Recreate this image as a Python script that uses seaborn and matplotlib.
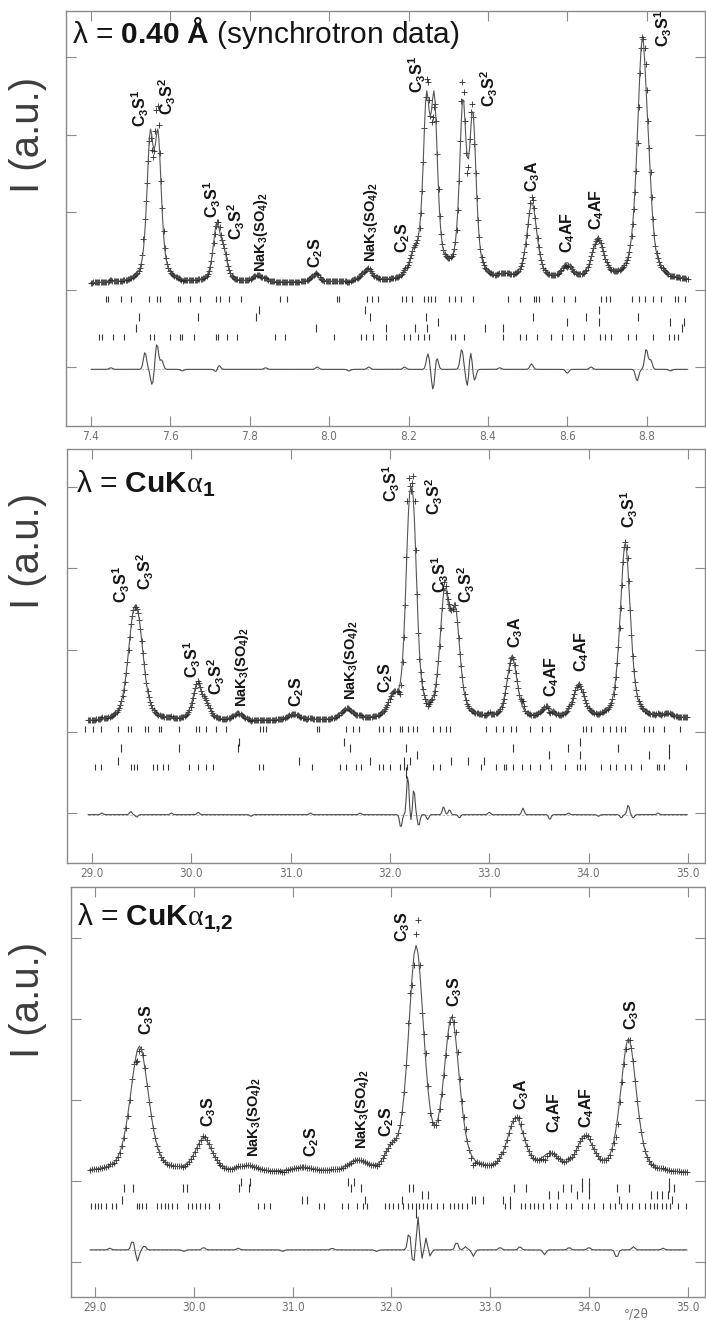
import numpy as np
import pandas as pd
import matplotlib
matplotlib.use("Agg")
import matplotlib.pyplot as plt
from matplotlib.ticker import FormatStrFormatter
import seaborn as sns

# ---------------------------------------------------------------- data
# Panel 1 : synchrotron, lambda = 0.40 A   (x in deg 2theta, y in tick units)
p1_range = [7.40, 8.905]
p1_bg = [1.08, 1.10]
p1_pos = [7.549, 7.569, 7.717, 7.735, 7.820, 7.964, 8.095, 8.215, 8.245, 8.265, 8.300,
          8.337, 8.362, 8.445, 8.511, 8.599, 8.677, 8.789, 8.806]
p1_hgt = [1.72, 1.72, 0.72, 0.30, 0.09, 0.09, 0.14, 0.28, 2.08, 2.08, 0.05,
          2.15, 2.00, 0.05, 1.00, 0.20, 0.52, 3.05, 0.40]
p1_fwhm = [0.020, 0.020, 0.022, 0.020, 0.030, 0.025, 0.035, 0.030, 0.020, 0.020, 0.050,
           0.020, 0.020, 0.030, 0.030, 0.030, 0.035, 0.030, 0.020]
p1_dpos = [7.45, 7.536, 7.554, 7.566, 7.578, 7.63, 7.716, 7.722, 7.84, 7.97, 8.05, 8.10,
           8.19, 8.249, 8.262, 8.271, 8.334, 8.349, 8.356, 8.366, 8.43, 8.51, 8.60, 8.66,
           8.776, 8.799, 8.81, 8.86]
p1_damp = [0.02, 0.22, -0.20, 0.33, 0.12, -0.02, -0.04, 0.06, 0.02, 0.03, -0.02, 0.03,
           0.03, 0.20, -0.27, 0.16, 0.26, -0.25, 0.26, -0.15, 0.02, 0.07, -0.05, 0.03,
           -0.15, 0.26, 0.12, -0.02]
p1_ticks = [
    [7.438, 7.442, 7.476, 7.500, 7.545, 7.566, 7.573, 7.618, 7.625, 7.649, 7.675, 7.716,
     7.724, 7.747, 7.779, 7.877, 7.895, 8.019, 8.026, 8.095, 8.109, 8.123, 8.183, 8.194,
     8.209, 8.240, 8.248, 8.256, 8.266, 8.303, 8.316, 8.331, 8.362, 8.451, 8.482, 8.515,
     8.521, 8.528, 8.562, 8.593, 8.619, 8.684, 8.697, 8.708, 8.764, 8.780, 8.796, 8.816,
     8.837, 8.871, 8.879, 8.897],
    [7.823, 8.090, 8.679],
    [7.521, 7.670, 7.815, 8.102, 8.244, 8.513, 8.648, 8.778],
    [8.275, 8.600, 8.679, 8.858, 8.894],
    [7.514, 7.968, 8.144, 8.217, 8.246, 8.393, 8.438, 8.889],
    [7.420, 7.428, 7.455, 7.483, 7.548, 7.558, 7.600, 7.623, 7.630, 7.659, 7.714, 7.721,
     7.742, 7.768, 7.864, 7.888, 8.012, 8.080, 8.092, 8.111, 8.142, 8.189, 8.204, 8.225,
     8.240, 8.251, 8.306, 8.316, 8.339, 8.438, 8.482, 8.495, 8.524, 8.559, 8.586, 8.614,
     8.642, 8.682, 8.694, 8.711, 8.752, 8.773, 8.816, 8.856, 8.870, 8.879],
]
p1_lab_txt = ["C_3S^1", "C_3S^2", "C_3S^1", "C_3S^2", "NaK_3(SO_4)_2", "C_2S",
              "NaK_3(SO_4)_2", "C_2S", "C_3S^1", "C_3S^2", "C_3A", "C_4AF", "C_4AF", "C_3S^1"]
p1_lab_x = [7.523, 7.591, 7.706, 7.765, 7.828, 7.967, 8.105, 8.185, 8.222, 8.403, 8.513,
            8.600, 8.675, 8.843]
p1_lab_y = [3.10, 3.25, 1.92, 1.64, 1.23, 1.28, 1.36, 1.47, 3.53, 3.35, 2.26, 1.47, 1.77, 4.13]

# Panel 2 : CuKa1
p2_range = [28.96, 35.0]
p2_bg = [1.12, 1.16]
p2_pos = [29.41, 29.47, 30.06, 30.15, 30.47, 31.03, 31.57, 32.03, 32.19, 32.24, 32.55,
          32.66, 33.23, 33.58, 33.90, 34.37, 34.80]
p2_hgt = [0.85, 0.80, 0.42, 0.15, 0.08, 0.07, 0.13, 0.22, 1.80, 1.80, 1.42,
          1.18, 0.75, 0.13, 0.40, 2.15, 0.05]
p2_fwhm = [0.14, 0.14, 0.11, 0.10, 0.12, 0.15, 0.14, 0.12, 0.09, 0.09, 0.11,
           0.11, 0.12, 0.12, 0.13, 0.12, 0.10]
p2_dpos = [29.10, 29.39, 29.45, 29.80, 30.07, 30.60, 31.20, 31.70, 32.11, 32.18, 32.215,
           32.24, 32.29, 32.38, 32.54, 32.60, 32.70, 33.00, 33.34, 33.61, 33.80, 34.10,
           34.33, 34.40, 34.45, 34.70]
p2_damp = [0.02, 0.04, -0.03, 0.02, 0.03, -0.02, 0.02, 0.02, -0.16, 0.49, -0.10,
           0.33, -0.14, -0.06, 0.10, 0.06, -0.04, 0.03, 0.08, -0.06, 0.02, -0.02,
           -0.04, 0.12, -0.04, 0.02]
p2_ticks = [
    [28.93, 29.01, 29.09, 29.26, 29.36, 29.39, 29.53, 29.56, 29.67, 29.69, 29.88, 30.05,
     30.08, 30.15, 30.25, 30.35, 30.69, 30.72, 30.75, 31.27, 31.29, 31.56, 31.63, 31.69,
     31.89, 31.93, 32.00, 32.10, 32.12, 32.18, 32.23, 32.27, 32.43, 32.50, 32.56, 32.61,
     32.97, 33.07, 33.14, 33.22, 33.27, 33.41, 33.53, 33.61, 33.94, 33.97, 34.02, 34.15,
     34.22, 34.28, 34.33, 34.37, 34.56, 34.61, 34.65, 34.76, 34.92],
    [30.48, 31.54, 33.91],
    [29.29, 29.88, 30.47, 31.60, 32.16, 33.24, 33.79, 34.30, 34.81],
    [32.27, 33.60, 33.91, 34.61, 34.81],
    [29.26, 31.08, 31.80, 32.14, 32.20, 32.62, 32.79, 32.95],
    [29.03, 29.09, 29.39, 29.42, 29.45, 29.61, 29.65, 29.71, 29.77, 29.98, 30.07, 30.15,
     30.22, 30.68, 30.72, 31.22, 31.50, 31.56, 31.66, 31.71, 31.89, 31.93, 32.00, 32.10,
     32.14, 32.17, 32.43, 32.50, 32.92, 33.07, 33.15, 33.17, 33.24, 33.33, 33.41, 33.51,
     33.62, 33.76, 33.88, 33.91, 33.96, 34.13, 34.22, 34.28, 34.37, 34.43, 34.53, 34.69,
     34.71, 34.76, 34.98],
]
p2_long_tick = 32.16
p2_lab_txt = ["C_3S^1", "C_3S^2", "C_3S^1", "C_3S^2", "NaK_3(SO_4)_2", "C_2S",
              "NaK_3(SO_4)_2", "C_2S", "C_3S^1", "C_3S^2", "C_3S^1", "C_3S^2", "C_3A",
              "C_4AF", "C_4AF", "C_3S^1"]
p2_lab_x = [29.29, 29.54, 30.01, 30.25, 30.51, 31.06, 31.61, 31.96, 32.01, 32.45, 32.51,
            32.77, 33.27, 33.63, 33.93, 34.41]
p2_lab_y = [2.58, 2.74, 1.66, 1.45, 1.30, 1.30, 1.39, 1.47, 3.82, 3.66, 2.70, 2.58, 2.02,
            1.42, 1.73, 3.50]

# Panel 3 : CuKa1,2
p3_range = [28.95, 35.0]
p3_bg = [1.11, 1.09]
p3_pos = [29.45, 30.10, 30.55, 31.10, 31.65, 32.00, 32.25, 32.61, 33.26, 33.61, 33.96, 34.40]
p3_hgt = [1.55, 0.40, 0.07, 0.05, 0.12, 0.20, 2.75, 1.85, 0.65, 0.20, 0.42, 1.65]
p3_fwhm = [0.22, 0.20, 0.20, 0.25, 0.20, 0.15, 0.185, 0.185, 0.20, 0.22, 0.20, 0.19]
p3_dpos = [29.15, 29.38, 29.43, 29.50, 29.90, 30.10, 30.45, 30.90, 31.40, 31.85, 32.18,
           32.22, 32.27, 32.31, 32.35, 32.39, 32.66, 32.75, 32.83, 33.10, 33.30, 33.55,
           33.80, 34.00, 34.28, 34.45, 34.75]
p3_damp = [0.02, 0.12, -0.14, 0.05, -0.02, 0.03, 0.02, -0.02, 0.02, -0.02, 0.23,
           -0.18, 0.41, -0.12, 0.15, -0.08, 0.10, 0.04, -0.08, 0.03, 0.04, -0.06,
           0.03, 0.03, -0.10, 0.04, 0.02]
p3_ticks = [
    [30.48, 30.57, 31.56, 31.62, 33.93, 34.00, 34.81],
    [29.29, 29.38, 29.89, 29.93, 30.46, 30.56, 31.59, 31.69, 32.18, 32.22, 33.24, 33.36,
     33.74, 33.82, 33.93, 34.00, 34.28, 34.40, 34.81, 34.86],
    [32.31, 32.37, 33.59, 33.69, 33.88, 34.00, 34.63, 34.69, 34.74, 34.80],
    [29.27, 31.10, 31.15, 31.73, 32.11, 32.82, 32.85, 32.93, 33.13, 33.20, 34.30, 34.84],
    [28.96, 29.00, 29.03, 29.06, 29.11, 29.17, 29.21, 29.42, 29.45, 29.48, 29.52, 29.63,
     29.67, 29.71, 29.74, 29.78, 29.83, 29.94, 29.98, 30.02, 30.06, 30.11, 30.15, 30.25,
     30.65, 30.71, 30.77, 31.27, 31.32, 31.50, 31.56, 31.65, 31.71, 31.75, 31.94, 31.98,
     32.02, 32.07, 32.12, 32.17, 32.21, 32.25, 32.28, 32.32, 32.36, 32.40, 32.46, 32.52,
     32.59, 32.63, 32.67, 32.71, 32.77, 33.15, 33.20, 33.31, 33.35, 33.40, 33.44, 33.48,
     33.53, 33.61, 33.68, 33.77, 33.82, 33.93, 33.99, 34.05, 34.14, 34.21, 34.26, 34.32,
     34.38, 34.44, 34.51, 34.57, 34.62, 34.66, 34.69, 34.74, 34.78, 34.82, 34.90, 34.98],
]
p3_long_tick = 32.25
p3_lab_txt = ["C_3S", "C_3S", "NaK_3(SO_4)_2", "C_2S", "NaK_3(SO_4)_2", "C_2S", "C_3S",
              "C_3S", "C_3A", "C_4AF", "C_4AF", "C_3S"]
p3_lab_x = [29.52, 30.15, 30.61, 31.19, 31.70, 31.95, 32.11, 32.64, 33.32, 33.65, 33.98, 34.43]
p3_lab_y = [2.80, 1.67, 1.30, 1.30, 1.40, 1.54, 3.95, 3.15, 1.88, 1.59, 1.65, 2.86]

titles = [r"λ = $\mathbf{0.40\ Å}$ (synchrotron data)",
          r"λ = $\mathbf{CuK}\mathit{α}_{\mathbf{1}}$",
          r"λ = $\mathbf{CuK}\mathit{α}_{\mathbf{1{,}2}}$"]
xticks1 = [7.4, 7.6, 7.8, 8.0, 8.2, 8.4, 8.6, 8.8]
xticks23 = [29.0, 30.0, 31.0, 32.0, 33.0, 34.0, 35.0]
ylabel = "I (a.u.)"
xunit = "°/2θ"

# ---------------------------------------------------------------- style
sns.set_theme(style="white")
plt.rcParams["font.family"] = ["Liberation Sans", "DejaVu Sans"]
plt.rcParams["mathtext.fontset"] = "custom"
plt.rcParams["mathtext.rm"] = "Liberation Sans"
plt.rcParams["mathtext.bf"] = "Liberation Sans:bold"
plt.rcParams["mathtext.it"] = "Liberation Serif"

GRAY = "#8a8a8a"
NARROW = ["Liberation Sans Narrow", "DejaVu Sans"]


def pvoigt(x, pos, hgt, fwhm, eta):
    y = np.zeros_like(x)
    for p, h, w in zip(pos, hgt, fwhm):
        d = (x - p) / w
        g = np.exp(-4 * np.log(2) * d ** 2)
        l = 1.0 / (1.0 + 4 * d ** 2)
        y += h * (eta * l + (1 - eta) * g)
    return y


def spikes(x, pos, amp, sig):
    y = np.zeros_like(x)
    for p, a in zip(pos, amp):
        y += a * np.exp(-0.5 * ((x - p) / sig) ** 2)
    return y


fig = plt.figure(figsize=(7.06, 13.21), dpi=100)
rects = [[66 / 706, 1 - 426 / 1321, 639 / 706, 415 / 1321],
         [67 / 706, 1 - 863 / 1321, 638 / 706, 414 / 1321],
         [71 / 706, 1 - 1297 / 1321, 634 / 706, 410 / 1321]]

panels = [
    dict(rng=p1_range, bg=p1_bg, pos=p1_pos, hgt=p1_hgt, fwhm=p1_fwhm, eta=0.6, step=0.003,
         dpos=p1_dpos, damp=p1_damp, dsig=0.004, doff=-0.03, ticks=p1_ticks,
         trow=[0.877, 0.735, 0.645, 0.58, 0.503, 0.387], long=None,
         ltxt=p1_lab_txt, lx=p1_lab_x, ly=p1_lab_y, xt=xticks1, xlim=(7.337, 8.947),
         ylim=(-0.761, 4.594), title_xy=(0.0094, 0.923)),
    dict(rng=p2_range, bg=p2_bg, pos=p2_pos, hgt=p2_hgt, fwhm=p2_fwhm, eta=0.5, step=0.012,
         dpos=p2_dpos, damp=p2_damp, dsig=0.012, doff=-0.02, ticks=p2_ticks,
         trow=[1.03, 0.87, 0.80, 0.71, 0.64, 0.56], long=(p2_long_tick, 0.56, 0.43),
         ltxt=p2_lab_txt, lx=p2_lab_x, ly=p2_lab_y, xt=xticks23, xlim=(28.748, 35.173),
         ylim=(-0.613, 4.466), title_xy=(0.014, 0.894)),
    dict(rng=p3_range, bg=p3_bg, pos=p3_pos, hgt=p3_hgt, fwhm=p3_fwhm, eta=0.4, step=0.02,
         dpos=p3_dpos, damp=p3_damp, dsig=0.015, doff=0.15, ticks=p3_ticks,
         trow=[0.99, 0.91, 0.83, 0.76, 0.69], long=(p3_long_tick, 0.67, 0.54),
         ltxt=p3_lab_txt, lx=p3_lab_x, ly=p3_lab_y, xt=xticks23, xlim=(28.757, 35.174),
         ylim=(-0.432, 4.63), title_xy=(0.0095, 0.907)),
]

for i, (P, r) in enumerate(zip(panels, rects)):
    ax = fig.add_axes(r)
    x = np.arange(P["rng"][0], P["rng"][1] + 1e-9, P["step"])
    bg = np.interp(x, P["rng"], P["bg"])
    calc = bg + pvoigt(x, P["pos"], P["hgt"], P["fwhm"], P["eta"])
    diff = spikes(x, P["dpos"], P["damp"], P["dsig"])
    obs = calc + diff
    df = pd.DataFrame({"x": x, "calc": calc, "obs": obs, "diff": diff + P["doff"]})

    sns.scatterplot(data=df, x="x", y="obs", marker="+", s=22, color="#2a2a2a",
                    linewidth=0.6, ax=ax, zorder=2)
    sns.lineplot(data=df, x="x", y="calc", color="#555555", lw=0.8, ax=ax,
                 estimator=None, sort=False, zorder=3)
    ax.hlines(P["doff"], x[0], x[-1], color="#b0b0b0", lw=0.6, linestyles=(0, (3, 2)))
    sns.lineplot(data=df, x="x", y="diff", color="#4a4a4a", lw=0.8, ax=ax,
                 estimator=None, sort=False)

    # reflection markers
    for k, (row, yv) in enumerate(zip(P["ticks"], P["trow"])):
        dense = len(row) > 20
        tdf = pd.DataFrame({"x": row, "y": [yv] * len(row)})
        sns.scatterplot(data=tdf, x="x", y="y", marker="|", s=16 if dense else 28,
                        color="#333333", linewidth=0.8, ax=ax)
    if P["long"] is not None:
        ax.vlines(P["long"][0], P["long"][2], P["long"][1], color="#333333", lw=0.8)

    # peak labels
    for t, lx, ly in zip(P["ltxt"], P["lx"], P["ly"]):
        fs = 10.5 if t.startswith("Na") else 11.5
        ax.text(lx, ly, r"$\mathbf{" + t + "}$", rotation=90, ha="center", va="bottom",
                fontsize=fs, color="#151515")

    ax.text(P["title_xy"][0], P["title_xy"][1], titles[i], transform=ax.transAxes,
            fontsize=21.5, color="#151515", ha="left", va="baseline")

    ax.set_xlim(*P["xlim"])
    ax.set_ylim(*P["ylim"])
    ax.set_xticks(P["xt"])
    ax.xaxis.set_major_formatter(FormatStrFormatter("%.1f"))
    ax.set_yticks([0, 1, 2, 3, 4])
    ax.set_xlabel("")
    ax.set_ylabel("")
    ax.tick_params(axis="both", direction="in", length=7, width=0.8, colors=GRAY,
                   top=True, right=True, bottom=True, left=True, labelleft=False,
                   labelsize=8.5, pad=3)
    ax.tick_params(axis="x", labelcolor="#707070")
    for lbl in ax.get_xticklabels():
        lbl.set_fontfamily(NARROW)
        lbl.set_fontstretch("condensed")
    for s in ax.spines.values():
        s.set_color(GRAY)
        s.set_linewidth(1.0)
    ax.set_facecolor("white")

# y labels
for yc in [135, 551, 1000]:
    fig.text(28 / 706, 1 - yc / 1321, ylabel, rotation=90, ha="center", va="center",
             fontsize=29, color="#3c3c3c")
fig.text(636 / 706, 1 - 1314 / 1321, xunit, ha="center", va="center", fontsize=9.5,
         color="#707070", family=NARROW, stretch="condensed")

fig.savefig("out.png", dpi=100, facecolor="white")
